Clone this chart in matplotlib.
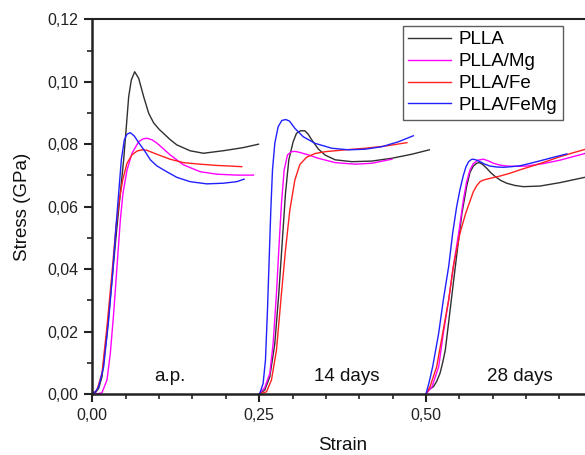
import matplotlib
matplotlib.use("Agg")
import matplotlib.pyplot as plt
from matplotlib.ticker import MultipleLocator, FixedLocator, FuncFormatter

plt.rcParams['font.family'] = ['Liberation Sans', 'DejaVu Sans']

labels = ["PLLA", "PLLA/Mg", "PLLA/Fe", "PLLA/FeMg"]
colors = ["#303030", "#ff00ff", "#ff2020", "#2020ff"]
stage_labels = ["a.p.", "14 days", "28 days"]
stage_label_x = [0.1165, 0.381, 0.641]
x_major_ticks = [0.00, 0.25, 0.50]

# ---- as prepared (a.p.) ----
plla_ap_x = [0.000, 0.005, 0.0095, 0.0145, 0.022, 0.0295, 0.037, 0.042, 0.047, 0.051, 0.0545, 0.0585, 0.0635, 0.0695, 0.077, 0.0845, 0.092, 0.100, 0.1065, 0.1165, 0.1265, 0.1465, 0.1665, 0.196, 0.226, 0.249]
plla_ap_y = [0.000, 0.0005, 0.0018, 0.0055, 0.0194, 0.0365, 0.0536, 0.0643, 0.075, 0.0856, 0.0952, 0.1006, 0.1032, 0.1011, 0.0952, 0.0899, 0.0868, 0.0848, 0.0835, 0.0815, 0.0798, 0.0779, 0.0771, 0.0779, 0.0789, 0.080]
mg_ap_x = [0.000, 0.008, 0.0145, 0.022, 0.027, 0.032, 0.037, 0.042, 0.046, 0.052, 0.0595, 0.0695, 0.076, 0.082, 0.0895, 0.0965, 0.1035, 0.1165, 0.1365, 0.1615, 0.1865, 0.2165, 0.2415]
mg_ap_y = [0.000, 0.0001, 0.0004, 0.0045, 0.013, 0.0258, 0.0408, 0.0557, 0.0643, 0.0717, 0.0771, 0.0808, 0.0817, 0.0819, 0.0814, 0.0804, 0.0791, 0.0766, 0.0734, 0.0712, 0.0704, 0.0701, 0.0701]
fe_ap_x = [0.000, 0.007, 0.0145, 0.022, 0.0295, 0.0355, 0.0405, 0.0455, 0.052, 0.0595, 0.067, 0.0745, 0.081, 0.087, 0.0965, 0.1165, 0.1365, 0.1615, 0.1865, 0.2065, 0.224]
fe_ap_y = [0.000, 0.0013, 0.0066, 0.0216, 0.0387, 0.0536, 0.0621, 0.0685, 0.0739, 0.0766, 0.0778, 0.0782, 0.0781, 0.0776, 0.0768, 0.0752, 0.0741, 0.0736, 0.0732, 0.073, 0.0728]
femg_ap_x = [0.000, 0.005, 0.0095, 0.017, 0.0245, 0.0305, 0.0355, 0.0395, 0.0435, 0.048, 0.052, 0.057, 0.063, 0.0695, 0.078, 0.087, 0.0965, 0.1065, 0.1265, 0.1465, 0.1715, 0.196, 0.2165, 0.2275]
femg_ap_y = [0.000, 0.0008, 0.0023, 0.0087, 0.0237, 0.0387, 0.0536, 0.0643, 0.075, 0.0814, 0.0832, 0.0837, 0.0826, 0.0805, 0.078, 0.075, 0.0731, 0.0718, 0.0694, 0.068, 0.0673, 0.0675, 0.068, 0.0688]

# ---- 14 days ----
plla_14_x = [0.250, 0.2585, 0.266, 0.2735, 0.2795, 0.2845, 0.2895, 0.2945, 0.301, 0.306, 0.312, 0.3185, 0.3235, 0.3285, 0.3385, 0.349, 0.364, 0.389, 0.419, 0.449, 0.479, 0.505]
plla_14_y = [0.000, 0.0013, 0.0055, 0.0162, 0.0323, 0.0483, 0.0643, 0.075, 0.0808, 0.0835, 0.0843, 0.0843, 0.0832, 0.0815, 0.0785, 0.0765, 0.075, 0.0744, 0.0746, 0.0755, 0.0768, 0.0782]
mg_14_x = [0.250, 0.2585, 0.266, 0.271, 0.276, 0.280, 0.2835, 0.2875, 0.2925, 0.2985, 0.3035, 0.3085, 0.3235, 0.3385, 0.364, 0.394, 0.419, 0.449]
mg_14_y = [0.000, 0.0021, 0.0066, 0.0162, 0.0323, 0.0483, 0.0611, 0.0717, 0.0766, 0.0776, 0.0777, 0.0775, 0.0766, 0.0755, 0.0741, 0.0736, 0.0739, 0.0752]
fe_14_x = [0.250, 0.261, 0.2685, 0.276, 0.2835, 0.2895, 0.296, 0.3035, 0.311, 0.321, 0.3335, 0.349, 0.379, 0.409, 0.439, 0.4715]
fe_14_y = [0.000, 0.0007, 0.0045, 0.0141, 0.0323, 0.0461, 0.0589, 0.0685, 0.0735, 0.0758, 0.077, 0.0776, 0.0782, 0.0787, 0.0794, 0.0805]
femg_14_x = [0.250, 0.251, 0.256, 0.2595, 0.2625, 0.265, 0.2675, 0.270, 0.2735, 0.2785, 0.284, 0.290, 0.2955, 0.3035, 0.316, 0.3335, 0.359, 0.384, 0.409, 0.434, 0.459, 0.481]
femg_14_y = [0.000, 0.0002, 0.0034, 0.0109, 0.0269, 0.0429, 0.0589, 0.0717, 0.0803, 0.0856, 0.0876, 0.0879, 0.0874, 0.0851, 0.0824, 0.0803, 0.0787, 0.0782, 0.0784, 0.0792, 0.0808, 0.0827]

# ---- 28 days ----
plla_28_x = [0.500, 0.505, 0.511, 0.516, 0.521, 0.525, 0.529, 0.535, 0.541, 0.547, 0.554, 0.561, 0.566, 0.571, 0.576, 0.580, 0.585, 0.591, 0.597, 0.604, 0.612, 0.621, 0.633, 0.646, 0.671, 0.701, 0.736, 0.745]
plla_28_y = [0.000, 0.0015, 0.0023, 0.0040, 0.0066, 0.0100, 0.0141, 0.0248, 0.0355, 0.0461, 0.058, 0.0665, 0.0710, 0.0730, 0.0739, 0.0741, 0.0735, 0.0723, 0.0709, 0.0696, 0.0684, 0.0675, 0.0668, 0.0664, 0.0666, 0.0677, 0.0693, 0.0697]
mg_28_x = [0.500, 0.509, 0.519, 0.526, 0.534, 0.541, 0.549, 0.556, 0.561, 0.566, 0.571, 0.578, 0.586, 0.593, 0.601, 0.611, 0.621, 0.636, 0.651, 0.676, 0.701, 0.736, 0.745]
mg_28_y = [0.000, 0.0023, 0.0087, 0.0194, 0.0301, 0.0408, 0.0515, 0.0621, 0.0680, 0.0718, 0.0738, 0.0749, 0.0752, 0.0747, 0.0739, 0.0733, 0.073, 0.0729, 0.073, 0.0738, 0.0749, 0.0769, 0.0774]
fe_28_x = [0.500, 0.506, 0.516, 0.525, 0.534, 0.541, 0.551, 0.559, 0.5665, 0.571, 0.576, 0.581, 0.586, 0.591, 0.601, 0.611, 0.626, 0.641, 0.656, 0.671, 0.686, 0.701, 0.718, 0.736, 0.745]
fe_28_y = [0.000, 0.0023, 0.0087, 0.0194, 0.0301, 0.0408, 0.0515, 0.0575, 0.0621, 0.0648, 0.0667, 0.068, 0.0685, 0.0688, 0.0693, 0.0698, 0.0707, 0.0718, 0.0728, 0.0738, 0.0749, 0.076, 0.0771, 0.0782, 0.0788]
femg_28_x = [0.500, 0.505, 0.510, 0.519, 0.526, 0.534, 0.540, 0.546, 0.551, 0.556, 0.560, 0.564, 0.568, 0.571, 0.576, 0.581, 0.588, 0.596, 0.606, 0.616, 0.628, 0.641, 0.653, 0.666, 0.691, 0.711]
femg_28_y = [0.000, 0.004, 0.0087, 0.0194, 0.0301, 0.0408, 0.0515, 0.0600, 0.0655, 0.0700, 0.0728, 0.0744, 0.0751, 0.0752, 0.0749, 0.0744, 0.0736, 0.073, 0.0727, 0.0726, 0.0728, 0.0731, 0.0737, 0.0744, 0.0758, 0.0769]

curves = [
    [(plla_ap_x, plla_ap_y), (plla_14_x, plla_14_y), (plla_28_x, plla_28_y)],
    [(mg_ap_x, mg_ap_y), (mg_14_x, mg_14_y), (mg_28_x, mg_28_y)],
    [(fe_ap_x, fe_ap_y), (fe_14_x, fe_14_y), (fe_28_x, fe_28_y)],
    [(femg_ap_x, femg_ap_y), (femg_14_x, femg_14_y), (femg_28_x, femg_28_y)],
]

fig = plt.figure(figsize=(5.85, 4.55), dpi=100)
ax = fig.add_axes([92.3 / 585, 61 / 455, 500.5 / 585, 374.7 / 455])

for lab, col, segs in zip(labels, colors, curves):
    for i, (xs, ys) in enumerate(segs):
        ax.plot(xs, ys, color=col, lw=1.0, label=lab if i == 0 else None,
                solid_joinstyle='round')

for txt, tx in zip(stage_labels, stage_label_x):
    ax.text(tx, 0.0055, txt, ha='center', va='center', fontsize=13.5, color='#111111')

ax.set_xlim(0, 0.75)
ax.set_ylim(0, 0.12)
ax.xaxis.set_major_locator(FixedLocator(x_major_ticks))
ax.xaxis.set_minor_locator(MultipleLocator(0.05))
ax.yaxis.set_major_locator(MultipleLocator(0.02))
ax.yaxis.set_minor_locator(MultipleLocator(0.01))
fmt = FuncFormatter(lambda v, p: f"{v:.2f}".replace('.', ','))
ax.xaxis.set_major_formatter(fmt)
ax.yaxis.set_major_formatter(fmt)
ax.tick_params(which='major', direction='out', length=6, width=1.5, labelsize=11.5, colors='#222222', pad=4)
ax.tick_params(which='minor', direction='out', length=3.5, width=1.2, colors='#222222')
ax.tick_params(axis='x', which='both', top=False)
ax.tick_params(axis='y', which='both', right=False)
for s in ['left', 'bottom']:
    ax.spines[s].set_linewidth(1.8)
    ax.spines[s].set_color('#222222')
ax.spines['top'].set_linewidth(1.5)
ax.spines['top'].set_color('#222222')
ax.spines['right'].set_visible(False)

ax.set_xlabel("Strain", fontsize=13.5, labelpad=10, color='#111111')
ax.set_ylabel("Stress (GPa)", fontsize=13.5, labelpad=12, color='#111111')

leg = ax.legend(loc='upper left', bbox_to_anchor=((402.7 - 92.3) / 500.5, (394 - 25.7) / 374.7),
                fontsize=13.5, frameon=True, fancybox=False, edgecolor='#333333',
                handlelength=2.3, handletextpad=0.4, labelspacing=0.25, borderpad=0.3,
                borderaxespad=0)
leg.get_frame().set_linewidth(1.0)

fig.savefig("out.png", dpi=100)
